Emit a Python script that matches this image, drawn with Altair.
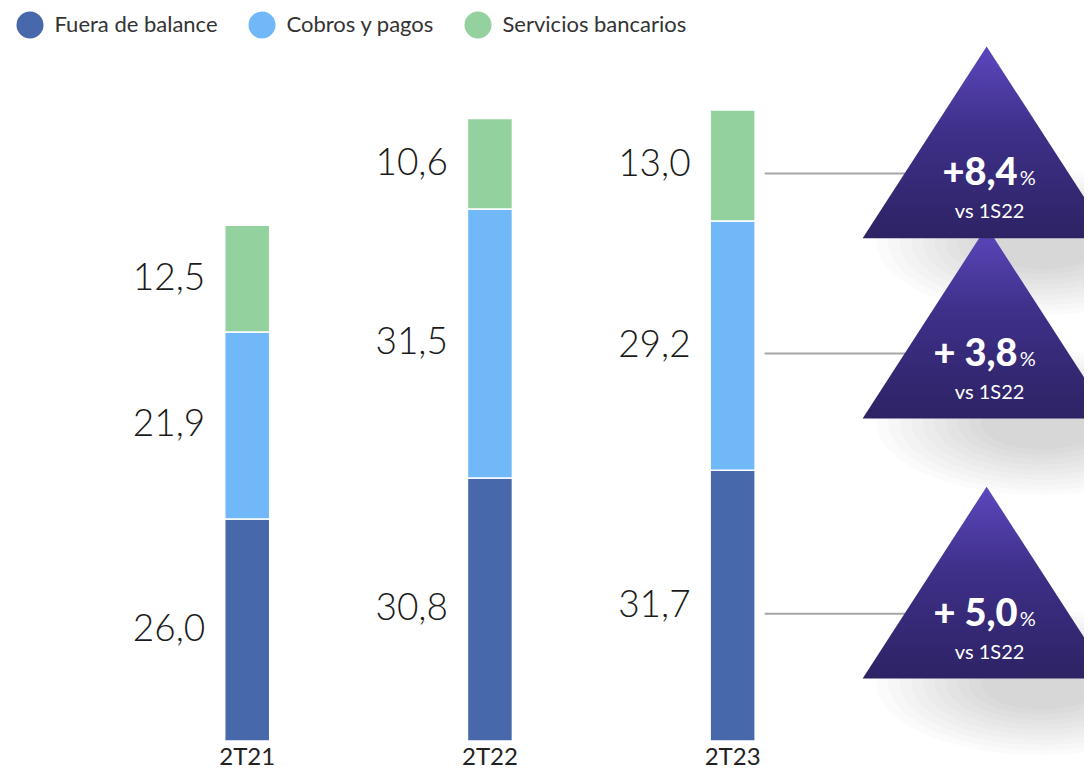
import altair as alt
import pandas as pd

# ---- data ----
periods = ["2T21", "2T22", "2T23"]
series = ["Fuera de balance", "Cobros y pagos", "Servicios bancarios"]
fuera = [26.0, 30.8, 31.7]
cobros = [21.9, 31.5, 29.2]
servicios = [12.5, 10.6, 13.0]
colors = ["#4868AC", "#71B8F9", "#93D29E"]
growth = {"Servicios bancarios": "+8,4", "Cobros y pagos": "+ 3,8", "Fuera de balance": "+ 5,0"}
growth_ref = "vs 1S22"

rows = []
for i, p in enumerate(periods):
    base = 0.0
    for s, vals in zip(series, [fuera, cobros, servicios]):
        v = vals[i]
        rows.append(dict(period=p, xi=i, serie=s, v=v, y0=base, y1=base + v,
                         mid=base + v / 2, label=f"{v:.1f}".replace(".", ",")))
        base += v
df = pd.DataFrame(rows)

per_df = pd.DataFrame({"period": periods, "xi": list(range(len(periods))), "base": [0.0] * len(periods)})

ann = df[df.period == periods[-1]].copy()
ann["growth"] = ann["serie"].map(growth)
ann["ref"] = growth_ref

X = alt.Scale(domain=[-0.965, 3.427], nice=False, zero=False)
Y = alt.Scale(domain=[-3.28, 85.83], nice=False, zero=False)

def xy(xfield="xi:Q", yfield="mid:Q"):
    return dict(x=alt.X(xfield, scale=X, axis=None), y=alt.Y(yfield, scale=Y, axis=None))

TRI = "M0,-0.774L1,0.774L-1,0.774Z"
ELL = "M-1,0A1,0.44 0 1,0 1,0A1,0.44 0 1,0 -1,0Z"

tri_grad = alt.LinearGradient(
    gradient="linear", x1=0, y1=0, x2=0, y2=1,
    stops=[alt.GradientStop(color="#5C47BD", offset=0),
           alt.GradientStop(color="#3E2F88", offset=0.45),
           alt.GradientStop(color="#2D2364", offset=1)])

TX = 254     # horizontal shift of the annotation column from the last bar
TY = -23     # triangle centre relative to the segment middle

# soft drop shadow: stacked translucent ellipses
shadow_layers = []
for k in range(10):
    f = 1.0 - 0.07 * k
    shadow_layers.append(
        alt.Chart(ann).mark_point(
            shape=ELL, size=(330 * f) ** 2, filled=True, fill="#000000", strokeWidth=0,
            opacity=0.017, xOffset=TX + 55, yOffset=TY + 100).encode(**xy()))

bars = alt.Chart(df).mark_bar(size=45, stroke="white", strokeWidth=1.5).encode(
    x=alt.X("xi:Q", scale=X, axis=None),
    y=alt.Y("y0:Q", scale=Y, axis=None),
    y2="y1:Q",
    color=alt.Color("serie:N", scale=alt.Scale(domain=series, range=colors),
                    legend=alt.Legend(title=None, orient="none", legendX=8.5, legendY=3.5,
                                      direction="horizontal", symbolType="circle",
                                      symbolSize=729, symbolStrokeWidth=0, symbolOpacity=1,
                                      labelFont="Lato", labelFontSize=22, labelColor="#333333",
                                      labelOffset=11, labelLimit=400, columnPadding=30,
                                      padding=0)),
)

values = alt.Chart(df).mark_text(
    align="right", baseline="middle", dx=-42, font="Lato", fontWeight=300,
    fontSize=37, color="#1a1a1a").encode(**xy(), text="label:N")

cats = alt.Chart(per_df).mark_text(
    align="center", baseline="alphabetic", dy=24, font="Lato", fontSize=24,
    color="#222222").encode(**xy(yfield="base:Q"), text="period:N")

rules = alt.Chart(ann).mark_rule(
    color="#a6a6a6", strokeWidth=2, xOffset=32, x2Offset=TX - 10, yOffset=8).encode(
    **xy(), x2="xi:Q")

tris = alt.Chart(ann).mark_point(
    shape=TRI, size=61504, filled=True, fill=tri_grad, strokeWidth=0, opacity=1,
    xOffset=TX, yOffset=TY).encode(**xy())

big = alt.Chart(ann).mark_text(
    align="right", baseline="alphabetic", dx=TX + 31, dy=20, font="Lato",
    fontWeight=900, fontSize=38, color="white").encode(**xy(), text="growth:N")

pct = alt.Chart(ann).mark_text(
    align="left", baseline="alphabetic", dx=TX + 33, dy=20, font="Lato",
    fontSize=20, color="white").encode(**xy(), text=alt.value("%"))

vs = alt.Chart(ann).mark_text(
    align="center", baseline="alphabetic", dx=TX + 3, dy=53, font="Lato",
    fontSize=20, color="white").encode(**xy(), text="ref:N")

chart = alt.layer(*shadow_layers, bars, values, cats, rules, tris, big, pct, vs).properties(
    width=1076, height=761,
    autosize=alt.AutoSizeParams(type="none"),
    padding=0,
    background="white",
).configure_view(stroke=None)

chart.save("out.html", embed_options={"renderer": "svg", "actions": False})
